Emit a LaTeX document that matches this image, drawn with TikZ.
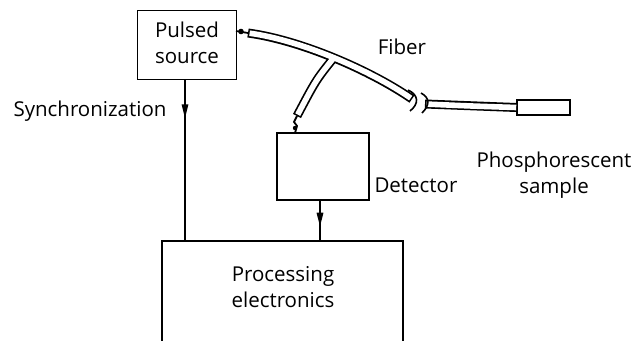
\documentclass[tikz,border=0pt]{standalone}
\usepackage{fontspec}
\setmainfont{Open Sans}
\usetikzlibrary{arrows.meta, decorations.markings}
\tikzset{
  box/.style={draw, line width=1.6pt, inner sep=0pt},
  lbl/.style={font=\fontsize{20.5}{26}\selectfont, align=center, inner sep=0pt},
  wire/.style={line width=1.6pt},
  midarrow/.style={postaction={decorate}, decoration={markings,
     mark=at position #1 with {\arrow{Triangle[length=14pt,width=6.5pt]}}}},
  tubeout/.style={line width=9pt, line cap=butt},
  tubein/.style={white, line width=5.6pt, line cap=butt, shorten <=1.6pt, shorten >=1.6pt},
}
\begin{document}
\begin{tikzpicture}[x=1pt, y=-1pt]
\useasboundingbox (0,0) rectangle (634,340);
% boxes
\node[box, minimum width=99pt, minimum height=69pt] (src) at (187,45) {};
\node[lbl] (srct) at (187,43) {Pulsed\\source};
\node[box, minimum width=92pt, minimum height=67pt] (det) at (323,166.5) {};
\node[box, minimum width=241pt, minimum height=120pt] (proc) at (282.5,301) {};
\node[lbl] (proct) at (283,287) {Processing\\electronics};
\node[box, minimum width=53pt, minimum height=15pt] (samp) at (543.5,107.5) {};
% labels
\node[lbl] (sync) at (90,111) {Synchronization};
\node[lbl] (detl) at (416,185) {Detector};
\node[lbl] (fib) at (402,47) {Fiber};
\node[lbl] (sampl) at (554,175) {Phosphorescent\\sample};
% signal lines
\coordinate (s1) at (185,79.5);
\coordinate (s2) at (185,241);
\draw[wire, midarrow=0.24] (s1) -- (s2);
\coordinate (d1) at (320,200);
\coordinate (d2) at (320,241);
\draw[wire, midarrow=0.65] (d1) -- (d2);
% fiber
\coordinate (f0) at (248,33);
\coordinate (f1) at (412,99);
\coordinate (j) at (334,57.5);
\coordinate (b1) at (297,116);
\coordinate (g0) at (425,104);
\draw[tubeout] (f0) .. controls (300,40) and (370,70) .. (f1);
\draw[tubeout] (j) .. controls (316,80) .. (b1);
\draw[tubeout] (g0) .. controls (470,106) .. (samp.west);
\draw[tubein] (j) .. controls (316,80) .. (b1);
\draw[tubein] (f0) .. controls (300,40) and (370,70) .. (f1);
\draw[tubein, shorten >=0pt] (g0) .. controls (470,106) .. (samp.west);
% break marks
\draw[wire] (408,90) .. controls (419,95) and (419,104) .. (410,111);
\draw[wire] (421,93) .. controls (430,98) and (430,105) .. (422,113);
% connectors
\coordinate (c0) at (236,31);
\draw[line width=1.8pt] (c0) -- (f0);
\fill (241,31.5) circle (2.8pt);
\coordinate (c1) at (295,133);
\draw[line width=1.8pt] (b1) -- (294,122) -- (297,126) -- (c1);
\fill (295,128) circle (2.2pt);
\end{tikzpicture}
\end{document}
